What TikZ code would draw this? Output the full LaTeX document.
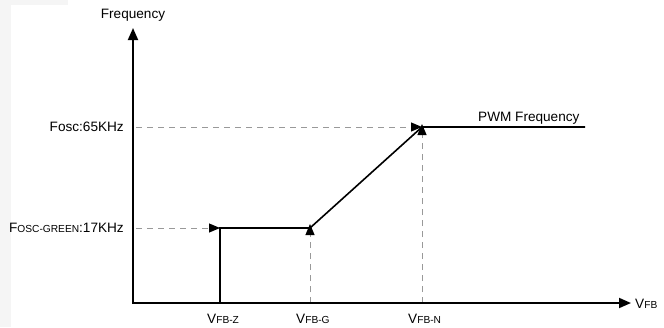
\documentclass[tikz,border=0pt]{standalone}
\usepackage{fontspec}
\setmainfont{Liberation Sans}
\usetikzlibrary{arrows.meta}
\newcommand{\smc}[1]{{\fontsize{10.2}{10}\selectfont #1}}
\begin{document}
\begin{tikzpicture}[x=1pt,y=-1pt,
  lbl/.style={inner sep=0pt,font=\fontsize{13.6}{14}\selectfont},
  axis/.style={line width=1.8pt,-{Triangle[length=12pt,width=10pt]}},
  curve/.style={line width=1.6pt,line join=miter},
  guide/.style={draw=black!40,line width=1pt,dash pattern=on 6pt off 5pt,-{Triangle[length=11pt,width=9pt,fill=black,color=black]}}]
\useasboundingbox (0,0) rectangle (664,327);
\fill[black!4] (0,0) rectangle (664,327);
\fill[white] (11,5) rectangle (664,327);
\fill[white] (68,0) rectangle (664,5);
% coordinates
\coordinate (O) at (133,303);
\coordinate (Ytop) at (133,28);
\coordinate (Xend) at (631,303);
\coordinate (Fh) at (136,127);
\coordinate (Fg) at (136,228);
\coordinate (Z0) at (220,303);
\coordinate (Z1) at (220,228);
\coordinate (G0) at (310,303);
\coordinate (G1) at (310,228);
\coordinate (N0) at (422,303);
\coordinate (N1) at (422,127);
\coordinate (P) at (585,127);
% guides
\draw[guide] (Fh) -- (N1);
\draw[guide] (Fg) -- (Z1);
\draw[guide] (G0) -- ([yshift=4pt]G1);
\draw[guide] (N0) -- ([yshift=3pt]N1);
% curve
\draw[curve] (Z0) -- (Z1) -- (G1) -- (N1) -- (P);
% axes
\draw[axis] (O) -- (Ytop);
\draw[axis] ([xshift=-0.9pt]O) -- (Xend);
% labels
\node[lbl] (ylab) at (133,15) {Frequency};
\node[lbl,anchor=east] (fh) at (124,127) {Fosc:65KHz};
\node[lbl,anchor=east] (fg) at (124,228) {F\smc{OSC-GREEN}:17KHz};
\node[lbl,anchor=base west] (pwm) at (478,121) {PWM Frequency};
\node[lbl,anchor=base west] (vz) at (207,323) {V\smc{FB-Z}};
\node[lbl,anchor=base west] (vg) at (296,323) {V\smc{FB-G}};
\node[lbl,anchor=base west] (vn) at (408,323) {V\smc{FB-N}};
\node[lbl,anchor=west] (vfb) at (635,304) {V\smc{FB}};
\end{tikzpicture}
\end{document}
